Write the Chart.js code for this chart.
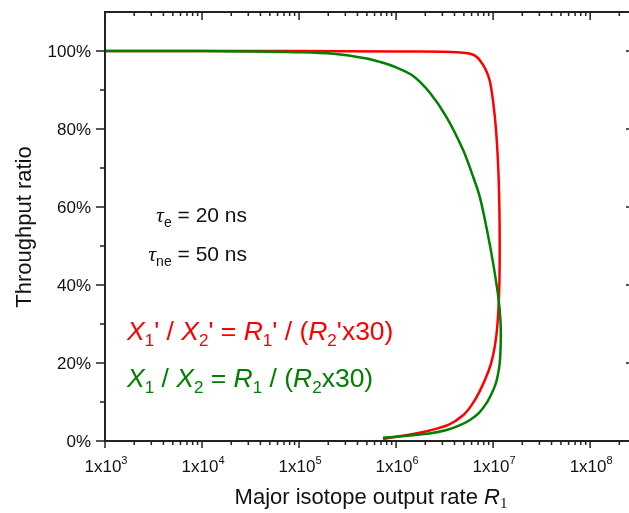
<!DOCTYPE html>
<html>
<head>
<meta charset="utf-8">
<script src="https://cdn.jsdelivr.net/npm/chart.js@4"></script>
<style>
  html, body { margin: 0; padding: 0; background: #fff; overflow: hidden; }
  #wrap { width: 640px; height: 513px; position: relative; }
</style>
</head>
<body>
<div id="wrap"><canvas id="ratioChart"></canvas></div>
<script>
// red curve: X1'/X2'
let redX = [1e3, 1e4, 1e5, 1e6, 3e6, 4.24e6, 5.5e6, 6.5e6, 7.3e6, 8.4e6, 9.25e6, 1.0e7, 1.07e7, 1.13e7, 1.16e7, 1.17e7, 1.16e7, 1.13e7, 1.08e7, 1.0e7, 9.0e6, 7.29e6, 6.0e6, 4.91e6, 3.5e6, 2.23e6, 1.5e6, 1.01e6, 7.33e5];
let redY = [100, 100, 100, 99.9, 99.8, 99.7, 99.4, 98.8, 97.6, 95.2, 92.3, 87, 80, 70, 60, 50, 40, 33, 27, 22, 18, 12.8, 9.2, 6.6, 4.2, 2.7, 1.8, 1.1, 0.5];
// green curve: X1/X2
let greenX = [1e3, 1e4, 3e4, 1e5, 2.24e5, 4.98e5, 6.82e5, 1.0e6, 1.5e6, 2.23e6, 3.32e6, 4.91e6, 6.22e6, 7.29e6, 8.67e6, 1.0e7, 1.13e7, 1.19e7, 1.2e7, 1.17e7, 1.1e7, 1.04e7, 9.5e6, 8.55e6, 7.2e6, 5.78e6, 4.5e6, 3.32e6, 2.2e6, 1.5e6, 1.0e6, 7.33e5];
let greenY = [100, 99.98, 99.9, 99.7, 99.3, 98.1, 97.2, 95.8, 93.6, 89.3, 83, 74.6, 67.8, 62.6, 54, 45.6, 37, 31, 26, 20, 16, 14, 11.8, 9.7, 7.3, 5.4, 4.0, 2.8, 1.9, 1.5, 1.1, 0.85];

let xMajor = [1e3, 1e4, 1e5, 1e6, 1e7, 1e8];
let xExp = ['3', '4', '5', '6', '7', '8'];
let yMajor = [0, 20, 40, 60, 80, 100];
let yMinor = [10, 30, 50, 70, 90];
let yLabels = ['0%', '20%', '40%', '60%', '80%', '100%'];

function toPoints(xs, ys) {
    return xs.map((x, i) => ({x: x, y: ys[i]}));
}

const SANS = '"Liberation Sans", Arial, sans-serif';
const SERIF = '"Liberation Serif", "Times New Roman", serif';

// draws a row of text runs, each {t, font, dy, color}
function drawRuns(c, runs, x, y, align) {
    let total = 0;
    runs.forEach(r => { c.font = r.font; total += c.measureText(r.t).width; });
    let cx = align === 'right' ? x - total : (align === 'center' ? x - total / 2 : x);
    c.textAlign = 'left';
    c.textBaseline = 'alphabetic';
    runs.forEach(r => {
        c.font = r.font;
        c.fillStyle = r.color || '#111';
        c.fillText(r.t, cx, y + (r.dy || 0));
        cx += c.measureText(r.t).width;
    });
}

const frame = {
    id: 'frame',
    afterDraw(chart) {
        const c = chart.ctx;
        const a = chart.chartArea;
        const xs = chart.scales.x, ys = chart.scales.y;
        c.save();
        c.strokeStyle = '#222';
        c.lineWidth = 2;
        c.strokeRect(a.left, a.top, a.right - a.left, a.bottom - a.top);

        c.lineWidth = 1.5;
        c.beginPath();
        // x ticks
        xMajor.forEach(v => {
            for (let m = 1; m <= 9; m++) {
                let val = v * m;
                if (val > xs.max) break;
                let px = xs.getPixelForValue(val);
                let big = m === 1;
                c.moveTo(px, a.bottom); c.lineTo(px, a.bottom + (big ? 7 : 4));
                c.moveTo(px, a.top); c.lineTo(px, a.top + (big ? 8 : 4));
            }
        });
        // y ticks
        yMajor.forEach(v => {
            let py = ys.getPixelForValue(v);
            c.moveTo(a.left, py); c.lineTo(a.left - 9, py);
            c.moveTo(a.right, py); c.lineTo(a.right - 9, py);
        });
        yMinor.forEach(v => {
            let py = ys.getPixelForValue(v);
            c.moveTo(a.left, py); c.lineTo(a.left - 5, py);
            c.moveTo(a.right, py); c.lineTo(a.right - 5, py);
        });
        c.stroke();

        // y labels
        c.fillStyle = '#111';
        c.font = '17px ' + SANS;
        c.textAlign = 'right';
        c.textBaseline = 'middle';
        yMajor.forEach((v, i) => c.fillText(yLabels[i], a.left - 14, ys.getPixelForValue(v) + 1));

        // x labels 1x10^n
        xMajor.forEach((v, i) => {
            let px = xs.getPixelForValue(v);
            drawRuns(c, [
                {t: '1x10', font: '17px ' + SANS},
                {t: xExp[i], font: '11px ' + SANS, dy: -8}
            ], px + 1, 472, 'center');
        });

        // axis titles
        drawRuns(c, [
            {t: 'Major isotope output rate ', font: '22px ' + SANS},
            {t: 'R', font: 'italic 22px ' + SANS},
            {t: '1', font: '15px ' + SERIF, dy: 4}
        ], 371, 504, 'center');
        c.save();
        c.translate(31, 227);
        c.rotate(-Math.PI / 2);
        drawRuns(c, [{t: 'Throughput ratio', font: '22px ' + SANS}], 0, 0, 'center');
        c.restore();

        // parameter notes
        drawRuns(c, [
            {t: 'τ', font: 'italic 22px ' + SERIF},
            {t: 'e', font: '14px ' + SANS, dy: 5},
            {t: ' = 20 ns', font: '21px ' + SANS}
        ], 247, 222, 'right');
        drawRuns(c, [
            {t: 'τ', font: 'italic 22px ' + SERIF},
            {t: 'ne', font: '14px ' + SANS, dy: 5},
            {t: ' = 50 ns', font: '21px ' + SANS}
        ], 247, 261, 'right');

        // legend-like formulas
        const red = '#ff0000', green = '#008000';
        const big = '26.5px ' + SANS, it = 'italic 26.5px ' + SANS, sub = '17px ' + SANS;
        drawRuns(c, [
            {t: 'X', font: it, color: red}, {t: '1', font: sub, dy: 6, color: red}, {t: "' / ", font: big, color: red},
            {t: 'X', font: it, color: red}, {t: '2', font: sub, dy: 6, color: red}, {t: "' = ", font: big, color: red},
            {t: 'R', font: it, color: red}, {t: '1', font: sub, dy: 6, color: red}, {t: "' / (", font: big, color: red},
            {t: 'R', font: it, color: red}, {t: '2', font: sub, dy: 6, color: red}, {t: "'x30)", font: big, color: red}
        ], 127, 340, 'left');
        drawRuns(c, [
            {t: 'X', font: it, color: green}, {t: '1', font: sub, dy: 6, color: green}, {t: ' / ', font: big, color: green},
            {t: 'X', font: it, color: green}, {t: '2', font: sub, dy: 6, color: green}, {t: ' = ', font: big, color: green},
            {t: 'R', font: it, color: green}, {t: '1', font: sub, dy: 6, color: green}, {t: ' / (', font: big, color: green},
            {t: 'R', font: it, color: green}, {t: '2', font: sub, dy: 6, color: green}, {t: 'x30)', font: big, color: green}
        ], 127, 387, 'left');
        c.restore();
    }
};

let ctx = document.getElementById('ratioChart').getContext('2d');
let ratioChart = new Chart(ctx, {
    type: 'scatter',
    data: {
        datasets: [{
            label: 'X1/X2',
            data: toPoints(greenX, greenY),
            borderColor: '#008000',
            borderWidth: 2.5,
            showLine: true,
            tension: 0.3,
            pointRadius: 0,
            fill: false,
        }, {
            label: "X1'/X2'",
            data: toPoints(redX, redY),
            borderColor: '#ff0000',
            borderWidth: 2.5,
            showLine: true,
            tension: 0.3,
            pointRadius: 0,
            fill: false,
        }]
    },
    options: {
        responsive: true,
        maintainAspectRatio: false,
        animation: false,
        layout: {padding: {left: 105, top: 12, right: 5, bottom: 72}},
        plugins: {legend: {display: false}, tooltip: {enabled: false}},
        scales: {
            x: {type: 'logarithmic', min: 1e3, max: 2.9e8, display: false},
            y: {type: 'linear', min: 0, max: 110, display: false}
        }
    },
    plugins: [frame]
});
</script>
</body>
</html>
